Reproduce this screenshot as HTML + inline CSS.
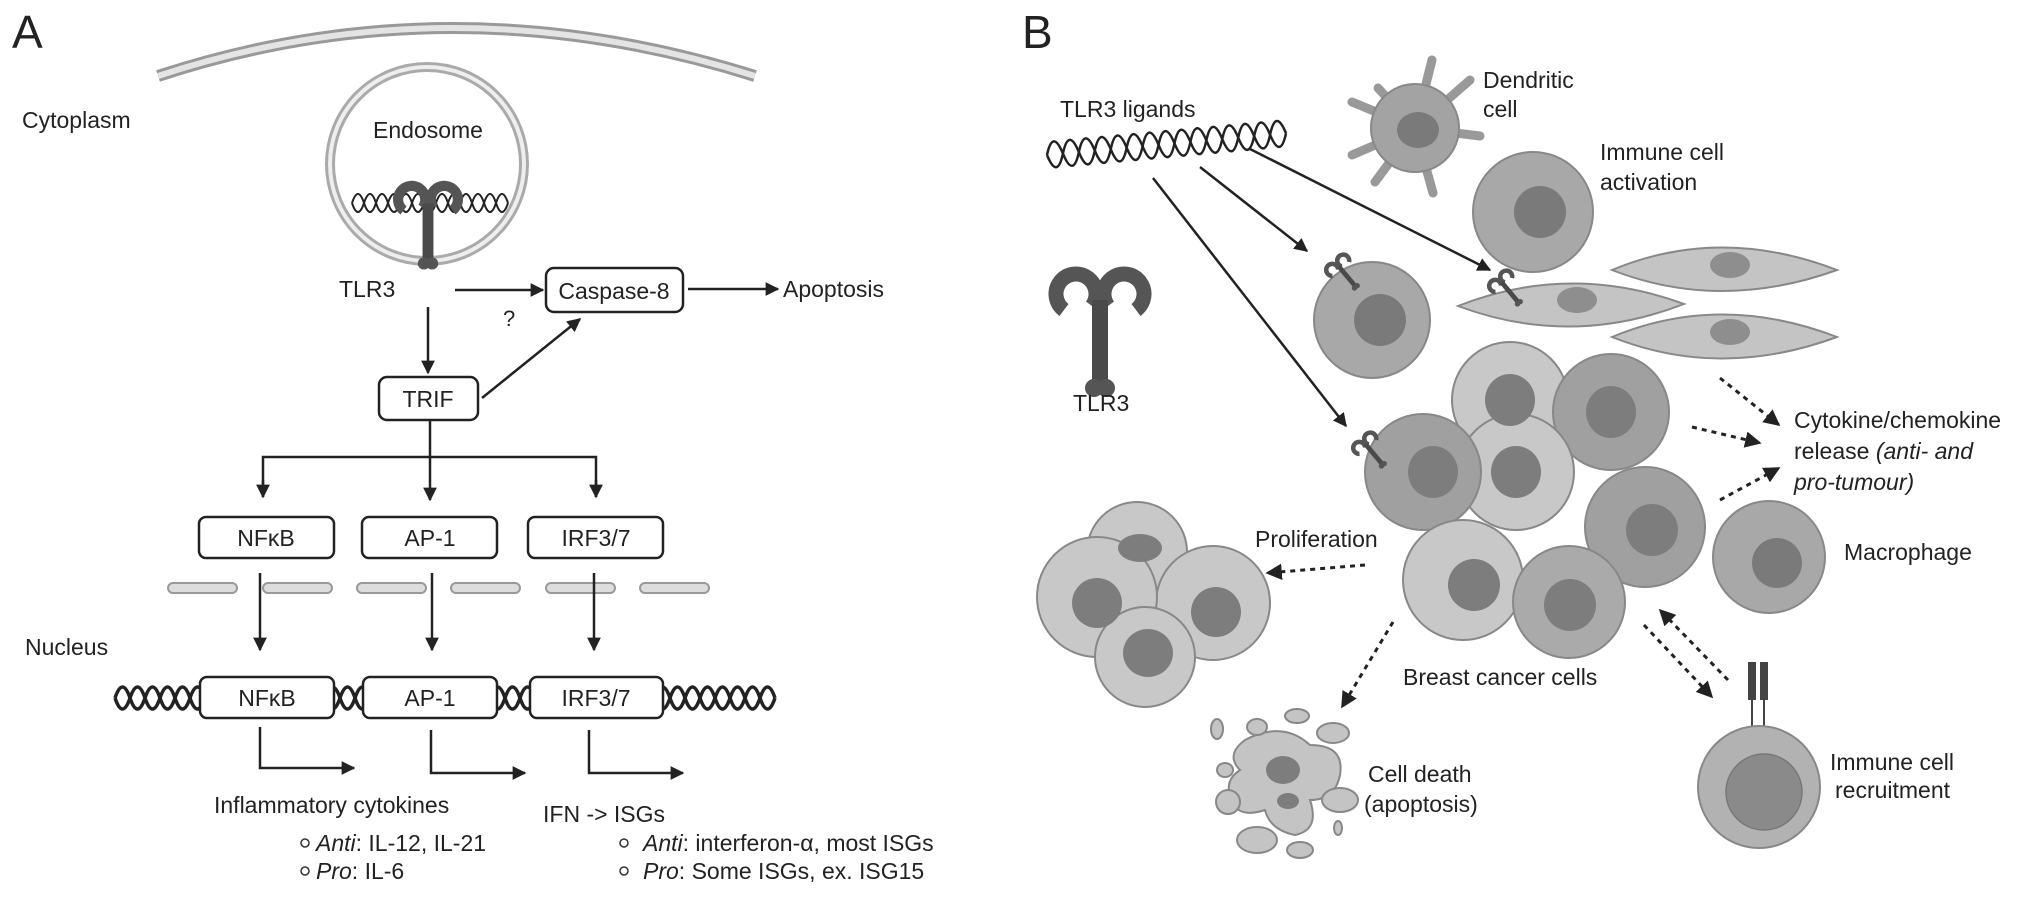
<!DOCTYPE html>
<html><head><meta charset="utf-8"><style>
html,body{margin:0;padding:0;background:#fff;width:2032px;height:897px;overflow:hidden}
text{font-family:"Liberation Sans",Arial,sans-serif;fill:#222}
</style></head><body>
<svg width="2032" height="897" viewBox="0 0 2032 897" xmlns="http://www.w3.org/2000/svg">
<defs>
<marker id="ah" viewBox="0 0 10 10" refX="9" refY="5" markerWidth="5.5" markerHeight="5.5" orient="auto"><path d="M0,0 L10,5 L0,10 z" fill="#222"/></marker>
<g id="tlr">
<path d="M-36,30 A20,20 0 1 1 -8,26" stroke="#555" stroke-width="15" fill="none"/>
<path d="M36,30 A20,20 0 1 0 8,26" stroke="#555" stroke-width="15" fill="none"/>
<rect x="-8" y="20" width="16" height="85" fill="#4a4a4a"/>
<circle cx="-6" cy="108" r="9" fill="#555"/><circle cx="6" cy="108" r="9" fill="#555"/>
</g>
</defs>

<!-- ============ PANEL A ============ -->
<text x="12" y="48" font-size="46">A</text>
<path d="M158,76 Q450,-20 755,76" stroke="#999" stroke-width="12" fill="none"/>
<path d="M158,76 Q450,-20 755,76" stroke="#e4e4e4" stroke-width="6" fill="none"/>
<text x="22" y="128" font-size="23">Cytoplasm</text>
<circle cx="427" cy="164" r="97" stroke="#aaa" stroke-width="10" fill="none"/>
<circle cx="427" cy="164" r="97" stroke="#eee" stroke-width="4" fill="none"/>
<text x="428" y="138" font-size="23" text-anchor="middle">Endosome</text>
<path d="M352,203 q6,-18 12,0 t12,0 t12,0 t12,0 t12,0 t12,0 t12,0 t12,0 t12,0 t12,0 t12,0 t12,0 t12,0" stroke="#222" stroke-width="2" fill="none"/>
<path d="M352,203 q6,18 12,0 t12,0 t12,0 t12,0 t12,0 t12,0 t12,0 t12,0 t12,0 t12,0 t12,0 t12,0 t12,0" stroke="#222" stroke-width="2" fill="none"/>
<use href="#tlr" transform="translate(428,190) scale(0.68)"/>
<text x="339" y="297" font-size="23">TLR3</text>
<line x1="455" y1="290" x2="543" y2="290" stroke="#222" stroke-width="2.5" marker-end="url(#ah)"/>
<text x="503" y="326" font-size="22">?</text>
<rect x="546" y="268" width="137" height="44" rx="8" fill="#fff" stroke="#222" stroke-width="2.5"/>
<text x="614" y="299" font-size="23" text-anchor="middle">Caspase-8</text>
<line x1="688" y1="289" x2="778" y2="289" stroke="#222" stroke-width="2.5" marker-end="url(#ah)"/>
<text x="783" y="297" font-size="23">Apoptosis</text>
<line x1="428" y1="307" x2="428" y2="373" stroke="#222" stroke-width="2.5" marker-end="url(#ah)"/>
<rect x="379" y="377" width="99" height="43" rx="8" fill="#fff" stroke="#222" stroke-width="2.5"/>
<text x="428" y="407" font-size="23" text-anchor="middle">TRIF</text>
<line x1="482" y1="398" x2="580" y2="319" stroke="#222" stroke-width="2.5" marker-end="url(#ah)"/>
<line x1="430" y1="420" x2="430" y2="457" stroke="#222" stroke-width="2.5"/>
<polyline points="263,497 263,457 596,457 596,497" fill="none" stroke="#222" stroke-width="2.5"/>
<line x1="263" y1="480" x2="263" y2="497" stroke="#222" stroke-width="2.5" marker-end="url(#ah)"/>
<line x1="596" y1="480" x2="596" y2="497" stroke="#222" stroke-width="2.5" marker-end="url(#ah)"/>
<line x1="430" y1="457" x2="430" y2="500" stroke="#222" stroke-width="2.5" marker-end="url(#ah)"/>
<g stroke="#222" stroke-width="2.5" fill="#fff">
<rect x="199" y="517" width="135" height="41" rx="7"/>
<rect x="362" y="517" width="135" height="41" rx="7"/>
<rect x="528" y="517" width="135" height="41" rx="7"/>
</g>
<text x="266" y="546" font-size="23" text-anchor="middle">NFκB</text>
<text x="430" y="546" font-size="23" text-anchor="middle">AP-1</text>
<text x="596" y="546" font-size="23" text-anchor="middle">IRF3/7</text>
<g fill="#ddd" stroke="#999" stroke-width="2">
<rect x="168" y="583" width="69" height="10" rx="5"/>
<rect x="263" y="583" width="69" height="10" rx="5"/>
<rect x="357" y="583" width="69" height="10" rx="5"/>
<rect x="451" y="583" width="69" height="10" rx="5"/>
<rect x="546" y="583" width="69" height="10" rx="5"/>
<rect x="640" y="583" width="69" height="10" rx="5"/>
</g>
<g stroke="#222" stroke-width="2.5">
<line x1="260" y1="573" x2="260" y2="650" marker-end="url(#ah)"/>
<line x1="432" y1="573" x2="432" y2="650" marker-end="url(#ah)"/>
<line x1="594" y1="573" x2="594" y2="650" marker-end="url(#ah)"/>
</g>
<text x="25" y="655" font-size="23">Nucleus</text>
<path d="M115,698 q7.5,-22 15,0 t15,0 t15,0 t15,0 t15,0 t15,0 t15,0 t15,0 t15,0 t15,0 t15,0 t15,0 t15,0 t15,0 t15,0 t15,0 t15,0 t15,0 t15,0 t15,0 t15,0 t15,0 t15,0 t15,0 t15,0 t15,0 t15,0 t15,0 t15,0 t15,0 t15,0 t15,0 t15,0 t15,0 t15,0 t15,0 t15,0 t15,0 t15,0 t15,0 t15,0 t15,0 t15,0 t15,0" stroke="#222" stroke-width="3.5" fill="none"/>
<path d="M115,698 q7.5,22 15,0 t15,0 t15,0 t15,0 t15,0 t15,0 t15,0 t15,0 t15,0 t15,0 t15,0 t15,0 t15,0 t15,0 t15,0 t15,0 t15,0 t15,0 t15,0 t15,0 t15,0 t15,0 t15,0 t15,0 t15,0 t15,0 t15,0 t15,0 t15,0 t15,0 t15,0 t15,0 t15,0 t15,0 t15,0 t15,0 t15,0 t15,0 t15,0 t15,0 t15,0 t15,0 t15,0 t15,0" stroke="#222" stroke-width="3.5" fill="none"/>
<g stroke="#222" stroke-width="2.5" fill="#fff">
<rect x="200" y="677" width="134" height="41" rx="7"/>
<rect x="363" y="677" width="134" height="41" rx="7"/>
<rect x="530" y="677" width="133" height="41" rx="7"/>
</g>
<text x="267" y="706" font-size="23" text-anchor="middle">NFκB</text>
<text x="430" y="706" font-size="23" text-anchor="middle">AP-1</text>
<text x="596" y="706" font-size="23" text-anchor="middle">IRF3/7</text>
<g stroke="#222" stroke-width="2.5" fill="none">
<polyline points="260,727 260,768 354,768" marker-end="url(#ah)"/>
<polyline points="431,730 431,773 525,773" marker-end="url(#ah)"/>
<polyline points="589,730 589,773 683,773" marker-end="url(#ah)"/>
</g>
<text x="214" y="813" font-size="23">Inflammatory cytokines</text>
<circle cx="305" cy="843" r="4" fill="none" stroke="#333" stroke-width="1.5"/>
<text x="316" y="851" font-size="23"><tspan font-style="italic">Anti</tspan>: IL-12, IL-21</text>
<circle cx="305" cy="871" r="4" fill="none" stroke="#333" stroke-width="1.5"/>
<text x="316" y="879" font-size="23"><tspan font-style="italic">Pro</tspan>: IL-6</text>
<text x="543" y="822" font-size="23">IFN -&gt; ISGs</text>
<circle cx="624" cy="843" r="4" fill="none" stroke="#333" stroke-width="1.5"/>
<text x="643" y="851" font-size="23"><tspan font-style="italic">Anti</tspan>: interferon-α, most ISGs</text>
<circle cx="624" cy="871" r="4" fill="none" stroke="#333" stroke-width="1.5"/>
<text x="643" y="879" font-size="23"><tspan font-style="italic">Pro</tspan>: Some ISGs, ex. ISG15</text>

<!-- ============ PANEL B ============ -->
<text x="1022" y="48" font-size="46">B</text>
<text x="1060" y="117" font-size="23">TLR3 ligands</text>
<g transform="translate(1047,155) rotate(-5.2)">
<path d="M0,0 q8,-26 16,0 t16,0 t16,0 t16,0 t16,0 t16,0 t16,0 t16,0 t16,0 t16,0 t16,0 t16,0 t16,0 t16,0 t16,0" stroke="#222" stroke-width="2.5" fill="none"/>
<path d="M0,0 q8,26 16,0 t16,0 t16,0 t16,0 t16,0 t16,0 t16,0 t16,0 t16,0 t16,0 t16,0 t16,0 t16,0 t16,0 t16,0" stroke="#222" stroke-width="2.5" fill="none"/>
</g>
<g stroke="#999" stroke-width="9" stroke-linecap="round">
<line x1="1415" y1="128" x2="1432" y2="60"/><line x1="1415" y1="128" x2="1470" y2="80"/>
<line x1="1415" y1="128" x2="1480" y2="136"/><line x1="1415" y1="128" x2="1433" y2="193"/>
<line x1="1415" y1="128" x2="1375" y2="182"/><line x1="1415" y1="128" x2="1352" y2="155"/>
<line x1="1415" y1="128" x2="1352" y2="102"/><line x1="1415" y1="128" x2="1378" y2="88"/>
</g>
<circle cx="1415" cy="128" r="44" fill="#a3a3a3" stroke="#888" stroke-width="2"/>
<ellipse cx="1418" cy="130" rx="21" ry="18" fill="#7a7a7a"/>
<text x="1483" y="88" font-size="23">Dendritic</text>
<text x="1483" y="117" font-size="23">cell</text>
<circle cx="1533" cy="212" r="60" fill="#a8a8a8" stroke="#888" stroke-width="2"/>
<circle cx="1540" cy="212" r="26" fill="#7a7a7a"/>
<text x="1600" y="160" font-size="23">Immune cell</text>
<text x="1600" y="190" font-size="23">activation</text>
<circle cx="1372" cy="320" r="58" fill="#a8a8a8" stroke="#888" stroke-width="2"/>
<circle cx="1380" cy="320" r="26" fill="#7a7a7a"/>
<g fill="#c4c4c4" stroke="#888" stroke-width="2">
<path d="M1612,270 Q1720,225 1837,270 Q1720,312 1612,270 z"/>
<path d="M1458,306 Q1570,262 1684,304 Q1570,348 1458,306 z"/>
<path d="M1612,337 Q1720,292 1837,337 Q1720,380 1612,337 z"/>
</g>
<g fill="#8e8e8e">
<ellipse cx="1730" cy="265" rx="20" ry="13"/>
<ellipse cx="1577" cy="300" rx="20" ry="13"/>
<ellipse cx="1730" cy="332" rx="20" ry="13"/>
</g>
<use href="#tlr" transform="translate(1100,280) scale(1)"/>
<text x="1073" y="411" font-size="23">TLR3</text>
<g stroke="#888" stroke-width="2">
<circle cx="1510" cy="400" r="58" fill="#c8c8c8"/>
<circle cx="1611" cy="412" r="58" fill="#a0a0a0"/>
<circle cx="1516" cy="472" r="58" fill="#c8c8c8"/>
<circle cx="1423" cy="472" r="58" fill="#a0a0a0"/>
<circle cx="1645" cy="527" r="60" fill="#a0a0a0"/>
<circle cx="1463" cy="580" r="60" fill="#c8c8c8"/>
<circle cx="1569" cy="602" r="56" fill="#aaaaaa"/>
</g>
<g fill="#7d7d7d">
<ellipse cx="1510" cy="400" rx="25" ry="26"/>
<ellipse cx="1611" cy="412" rx="25" ry="26"/>
<ellipse cx="1516" cy="472" rx="25" ry="26"/>
<ellipse cx="1433" cy="472" rx="25" ry="26"/>
<ellipse cx="1652" cy="530" rx="26" ry="26"/>
<ellipse cx="1474" cy="585" rx="26" ry="26"/>
<ellipse cx="1570" cy="605" rx="26" ry="26"/>
</g>
<use href="#tlr" transform="translate(1335,262) rotate(-40) scale(0.3)"/>
<use href="#tlr" transform="translate(1498,278) rotate(-40) scale(0.3)"/>
<use href="#tlr" transform="translate(1362,440) rotate(-40) scale(0.3)"/>
<g stroke="#222" stroke-width="2.5">
<line x1="1250" y1="149" x2="1490" y2="270" marker-end="url(#ah)"/>
<line x1="1200" y1="167" x2="1307" y2="251" marker-end="url(#ah)"/>
<line x1="1153" y1="178" x2="1346" y2="426" marker-end="url(#ah)"/>
</g>
<g stroke="#888" stroke-width="2" fill="#c8c8c8">
<circle cx="1137" cy="552" r="50"/>
<circle cx="1213" cy="603" r="57"/>
<circle cx="1097" cy="597" r="60"/>
<circle cx="1145" cy="657" r="50"/>
</g>
<g fill="#7d7d7d">
<ellipse cx="1140" cy="548" rx="22" ry="14"/>
<ellipse cx="1097" cy="603" rx="25" ry="25"/>
<ellipse cx="1216" cy="612" rx="25" ry="25"/>
<ellipse cx="1148" cy="653" rx="25" ry="24"/>
</g>
<text x="1255" y="547" font-size="23">Proliferation</text>
<g fill="#c4c4c4" stroke="#888" stroke-width="2">
<path d="M1245,740 Q1283,720 1310,745 Q1345,745 1340,775 Q1335,800 1310,800 Q1320,830 1295,835 Q1270,830 1265,810 Q1235,820 1230,795 Q1225,780 1240,770 Q1225,755 1245,740 z"/>
<ellipse cx="1217" cy="729" rx="6" ry="10"/>
<ellipse cx="1257" cy="727" rx="10" ry="8"/>
<ellipse cx="1297" cy="716" rx="12" ry="7"/>
<ellipse cx="1333" cy="733" rx="16" ry="10"/>
<ellipse cx="1225" cy="770" rx="8" ry="7"/>
<ellipse cx="1228" cy="802" rx="12" ry="12"/>
<ellipse cx="1340" cy="800" rx="18" ry="12"/>
<ellipse cx="1257" cy="840" rx="20" ry="13"/>
<ellipse cx="1300" cy="850" rx="13" ry="8"/>
<ellipse cx="1338" cy="828" rx="4" ry="7"/>
</g>
<ellipse cx="1283" cy="770" rx="17" ry="14" fill="#7d7d7d"/>
<ellipse cx="1288" cy="801" rx="11" ry="8" fill="#7d7d7d"/>
<text x="1368" y="782" font-size="23">Cell death</text>
<text x="1364" y="812" font-size="23">(apoptosis)</text>
<text x="1403" y="685" font-size="23">Breast cancer cells</text>
<circle cx="1769" cy="557" r="56" fill="#a8a8a8" stroke="#888" stroke-width="2"/>
<circle cx="1777" cy="563" r="25" fill="#7a7a7a"/>
<text x="1844" y="560" font-size="23">Macrophage</text>
<rect x="1748" y="662" width="8" height="38" fill="#444"/>
<rect x="1760" y="662" width="8" height="38" fill="#444"/>
<line x1="1752" y1="700" x2="1752" y2="735" stroke="#444" stroke-width="2"/>
<line x1="1764" y1="700" x2="1764" y2="735" stroke="#444" stroke-width="2"/>
<circle cx="1759" cy="787" r="61" fill="#b2b2b2" stroke="#888" stroke-width="2"/>
<circle cx="1764" cy="792" r="38" fill="#8a8a8a" stroke="#777" stroke-width="1.5"/>
<text x="1830" y="770" font-size="23">Immune cell</text>
<text x="1835" y="798" font-size="23">recruitment</text>
<g stroke="#222" stroke-width="3" stroke-dasharray="5,5" fill="none">
<line x1="1720" y1="378" x2="1779" y2="425" marker-end="url(#ah)"/>
<line x1="1692" y1="427" x2="1760" y2="443" marker-end="url(#ah)"/>
<line x1="1720" y1="500" x2="1779" y2="468" marker-end="url(#ah)"/>
<line x1="1365" y1="565" x2="1267" y2="573" marker-end="url(#ah)"/>
<line x1="1393" y1="622" x2="1342" y2="707" marker-end="url(#ah)"/>
<line x1="1644" y1="625" x2="1712" y2="697" marker-end="url(#ah)"/>
<line x1="1728" y1="680" x2="1660" y2="610" marker-end="url(#ah)"/>
</g>
<text x="1794" y="428" font-size="23">Cytokine/chemokine</text>
<text x="1794" y="459" font-size="23">release <tspan font-style="italic">(anti- and</tspan></text>
<text x="1794" y="490" font-size="23" font-style="italic">pro-tumour)</text>
</svg>
</body></html>
